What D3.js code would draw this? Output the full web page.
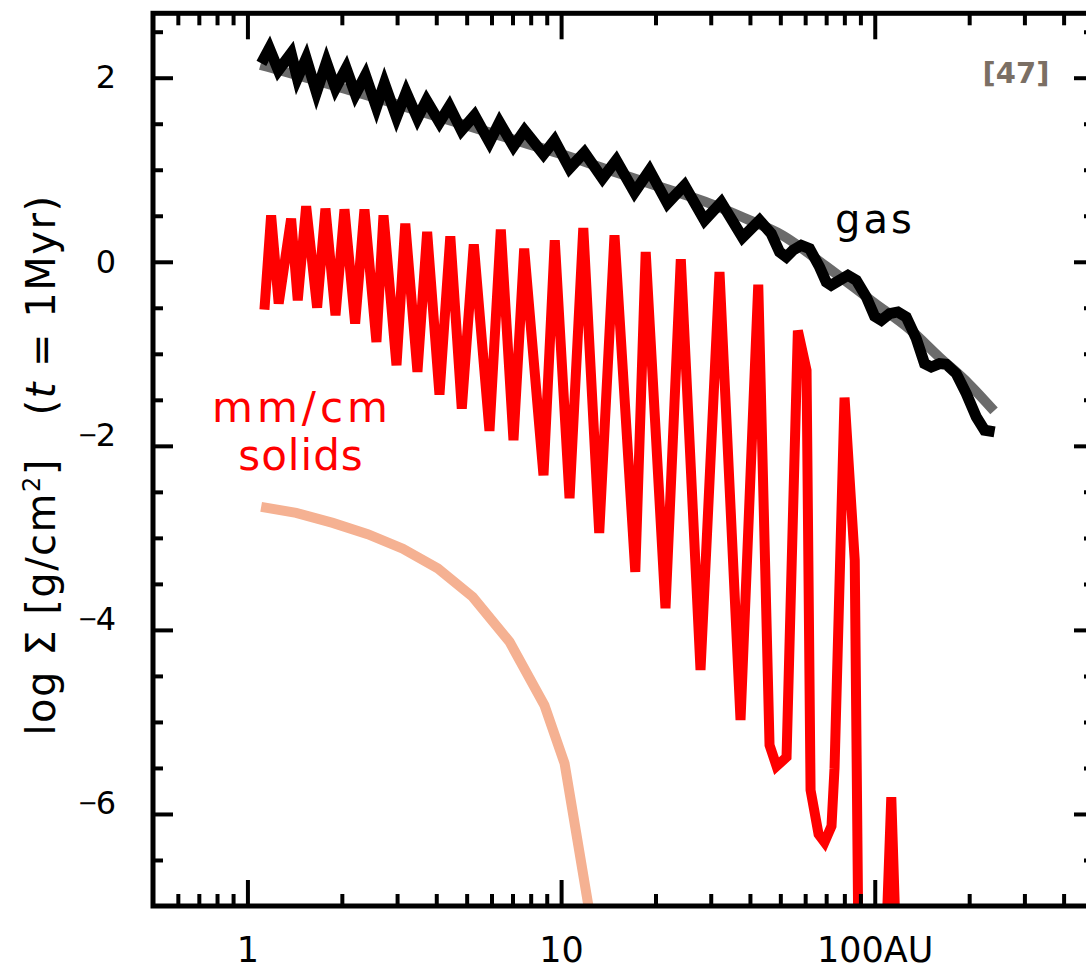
<!DOCTYPE html>
<html>
<head>
<meta charset="utf-8">
<script src="https://cdn.jsdelivr.net/npm/d3@7"></script>
<style>
  html, body { margin: 0; padding: 0; background: #fff; }
  svg { display: block; font-family: "DejaVu Sans", sans-serif; }
</style>
</head>
<body>
<svg id="chart" width="1086" height="970"></svg>
<script>
// Radius grid (AU) and log surface density of the gas with pressure bumps
const gasR = [1.108,1.175,1.255,1.378,1.443,1.539,1.660,1.786,1.909,2.064,2.210,2.378,2.578,2.734,2.987,3.207,3.484,3.723,4.095,4.406,4.813,5.297,5.911,6.362,7.050,7.644,8.788,9.528,10.64,11.87,13.55,14.99,17.14,19.14,21.84,24.75,28.67,32.40,37.88,42.93,46.77,49.71,52.22,54.81,58.31,61.96,66.68,70.03,72.65,77.22,82.10,87.30,93.96,99.86,104.9,111.5,118.5,126.0,135.6,144.1,151.4,160.9,169.0,181.9,195.8,210.7,223.9,241.0];
const gasSigma = [2.156,2.319,2.080,2.265,1.993,2.211,1.841,2.167,1.885,2.102,1.819,2.026,1.678,1.939,1.570,1.841,1.559,1.754,1.515,1.689,1.428,1.591,1.298,1.515,1.255,1.428,1.168,1.320,1.016,1.189,0.907,1.103,0.755,0.994,0.635,0.831,0.451,0.646,0.266,0.451,0.306,0.106,0.052,0.125,0.179,0.143,-0.056,-0.219,-0.255,-0.201,-0.147,-0.201,-0.382,-0.592,-0.635,-0.563,-0.545,-0.600,-0.834,-1.106,-1.143,-1.106,-1.113,-1.214,-1.432,-1.686,-1.830,-1.849];

// Unperturbed gas profile
const gasSmoothR = [1.1,1.5,2,3,5,7,10,15,20,30,40,50,70,100,130,160,200,240];
const gasSmoothSigma = [2.14,2.01,1.89,1.71,1.48,1.33,1.17,0.97,0.83,0.63,0.45,0.30,-0.05,-0.45,-0.74,-1.03,-1.33,-1.62];

// mm/cm solids trapped in the pressure maxima
const dustR = [1.133,1.190,1.258,1.378,1.447,1.539,1.668,1.773,1.909,2.039,2.205,2.361,2.578,2.715,2.987,3.186,3.484,3.741,4.095,4.434,4.824,5.268,5.911,6.424,7.050,7.627,8.788,9.548,10.64,11.77,13.23,14.80,17.24,18.61,21.52,24.08,27.83,31.99,37.33,42.52,46.19,48.63,52.33,56.87,60.61,62.42,66.20,69.17,72.80,74.43,80.11,86.33,88.8,108.2,112.9,117.3];
const dustSigma = [-0.519,0.505,-0.454,0.469,-0.418,0.603,-0.498,0.578,-0.581,0.570,-0.671,0.570,-0.871,0.505,-1.124,0.415,-1.197,0.324,-1.443,0.277,-1.595,0.190,-1.838,0.350,-1.939,0.143,-2.319,0.234,-2.569,0.367,-2.946,0.288,-3.370,0.106,-3.764,0.027,-4.437,-0.111,-4.980,-0.248,-5.252,-5.480,-5.382,-0.748,-1.179,-5.741,-6.219,-6.306,-6.132,-5.502,-1.476,-3.243,-7.587,-7.587,-5.817,-7.587];

// mm/cm solids without pressure bumps
const smallR = [1.106,1.43,1.871,2.419,3.128,4.045,5.23,6.85,8.85,10.26,13.26];
const smallSigma = [-2.663,-2.729,-2.837,-2.960,-3.117,-3.332,-3.642,-4.130,-4.82,-5.451,-7.72];

// Axis ticks
const xMajorTicks = [1, 10, 100];
const xTickLabels = ["1", "10", "100AU"];
const xMinorTicks = [0.6,0.7,0.8,0.9,2,3,4,5,6,7,8,9,20,30,40,50,60,70,80,90,200,300,400];
const yMajorTicks = [2, 0, -2, -4, -6];
const yTickLabels = ["2", "0", "\u22122", "\u22124", "\u22126"];
const yMinorTicks = [2.5,1.5,1,0.5,-0.5,-1,-1.5,-2.5,-3,-3.5,-4.5,-5,-5.5,-6.5];

const plot = { left: 153, right: 1094, top: 13.3, bottom: 906 };
const x = d3.scaleLog().domain([0.5, 500]).range([plot.left, plot.right]);
const y = d3.scaleLinear().domain([-7, 2.7]).range([plot.bottom, plot.top]);

const svg = d3.select("#chart");
svg.append("defs").append("clipPath").attr("id", "plotClip")
  .append("rect")
  .attr("x", plot.left).attr("y", plot.top)
  .attr("width", plot.right - plot.left).attr("height", plot.bottom - plot.top);

const zip = (a, b) => a.map((v, i) => [v, b[i]]);
const line = d3.line().x(d => x(d[0])).y(d => y(d[1]));
const smoothLine = d3.line().x(d => x(d[0])).y(d => y(d[1])).curve(d3.curveMonotoneX);

const curves = svg.append("g").attr("clip-path", "url(#plotClip)").attr("fill", "none");

curves.append("path").datum(zip(smallR, smallSigma))
  .attr("d", line).attr("stroke", "#f5b192").attr("stroke-width", 10);

curves.append("path").datum(zip(dustR, dustSigma))
  .attr("d", line).attr("stroke", "#ff0000").attr("stroke-width", 10);

curves.append("path").datum(zip(gasSmoothR, gasSmoothSigma))
  .attr("d", smoothLine).attr("stroke", "#6b6b6b").attr("stroke-width", 10);

curves.append("path").datum(zip(gasR, gasSigma))
  .attr("d", line).attr("stroke", "#000").attr("stroke-width", 11);

// Axes: ticks on all four sides pointing inward
function styleAxis(g, size) {
  g.select(".domain").remove();
  g.selectAll(".tick line").attr("stroke", "#000").attr("stroke-width", 4);
  g.attr("font-family", "DejaVu Sans").attr("font-size", size || 35);
  g.selectAll(".tick text").attr("fill", "#000");
}

svg.append("g").attr("transform", `translate(0,${plot.bottom})`)
  .call(d3.axisBottom(x).tickValues(xMajorTicks).tickSize(-26).tickPadding(31)
    .tickFormat((d, i) => xTickLabels[i]))
  .call(styleAxis, 35);
svg.append("g").attr("transform", `translate(0,${plot.bottom})`)
  .call(d3.axisBottom(x).tickValues(xMinorTicks).tickSize(-12).tickFormat(""))
  .call(styleAxis);
svg.append("g").attr("transform", `translate(0,${plot.top})`)
  .call(d3.axisTop(x).tickValues(xMajorTicks).tickSize(-26).tickFormat(""))
  .call(styleAxis);
svg.append("g").attr("transform", `translate(0,${plot.top})`)
  .call(d3.axisTop(x).tickValues(xMinorTicks).tickSize(-12).tickFormat(""))
  .call(styleAxis);

const yLabelAxis = svg.append("g").attr("transform", `translate(${plot.left},0)`)
  .call(d3.axisLeft(y).tickValues(yMajorTicks).tickSize(-20).tickPadding(37)
    .tickFormat((d, i) => yTickLabels[i]))
  .call(styleAxis, 32);
// a slimmer minus sign, raised to the middle of the digits
yLabelAxis.selectAll(".tick text").each(function (d, i) {
  const label = yTickLabels[i];
  if (label[0] !== "\u2212") return;
  const t = d3.select(this).text(null);
  t.append("tspan").attr("font-size", 24).attr("dy", -3).attr("dx", 0).text("\u2212");
  t.append("tspan").attr("dy", 3).attr("dx", -2).text(label.slice(1));
});
svg.append("g").attr("transform", `translate(${plot.left},0)`)
  .call(d3.axisLeft(y).tickValues(yMinorTicks).tickSize(-10).tickFormat(""))
  .call(styleAxis);
svg.append("g").attr("transform", `translate(${plot.right},0)`)
  .call(d3.axisRight(y).tickValues(yMajorTicks).tickSize(-20).tickFormat(""))
  .call(styleAxis);
svg.append("g").attr("transform", `translate(${plot.right},0)`)
  .call(d3.axisRight(y).tickValues(yMinorTicks).tickSize(-10).tickFormat(""))
  .call(styleAxis);

svg.append("rect")
  .attr("x", plot.left).attr("y", plot.top)
  .attr("width", plot.right - plot.left).attr("height", plot.bottom - plot.top)
  .attr("fill", "none").attr("stroke", "#000").attr("stroke-width", 5);

// Y axis title
const yTitle = svg.append("text")
  .attr("transform", `translate(55,465) rotate(-90)`)
  .attr("text-anchor", "middle")
  .attr("font-size", 40)
  .attr("letter-spacing", 1.5)
  .attr("fill", "#000")
  .style("white-space", "pre");
yTitle.append("tspan").text("log \u03A3 [g/cm");
yTitle.append("tspan").attr("font-size", 24).attr("dy", -15).text("2");
yTitle.append("tspan").attr("dy", 15).text("]   (");
yTitle.append("tspan").attr("font-style", "italic").text("t");
yTitle.append("tspan").text(" = 1Myr)");

// Labels
svg.append("text").attr("x", 1016).attr("y", 83).attr("text-anchor", "middle")
  .attr("font-weight", "bold").attr("font-size", 29).attr("fill", "#7b6f64").text("[47]");

svg.append("text").attr("x", 835).attr("y", 233)
  .attr("font-size", 40).attr("letter-spacing", 3).attr("fill", "#000").text("gas");

svg.append("text").attr("x", 302).attr("y", 422).attr("text-anchor", "middle")
  .attr("font-size", 42).attr("letter-spacing", 4).attr("fill", "#ff0000").text("mm/cm");
svg.append("text").attr("x", 301).attr("y", 470).attr("text-anchor", "middle")
  .attr("font-size", 42).attr("letter-spacing", 1).attr("fill", "#ff0000").text("solids");
</script>
</body>
</html>
